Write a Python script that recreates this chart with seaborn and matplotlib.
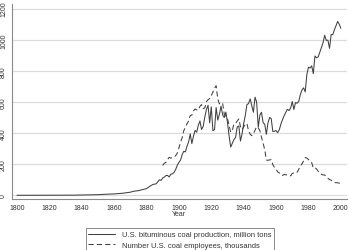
import numpy as np
import pandas as pd
import matplotlib
matplotlib.use("Agg")
import matplotlib.pyplot as plt
import seaborn as sns

# coal production, million tons (sparse early years, annual later)
prod_years = [1800, 1810, 1820, 1830, 1835, 1840, 1845, 1850, 1855, 1860, 1865,
              1870, 1872, 1875, 1877, 1880, 1882, 1884, 1886, 1888, 1889] + list(range(1890, 2001))
prod_values = [0.1, 0.2, 0.3, 0.6, 1.0, 2, 3, 4, 7, 9, 13,
               20, 26, 30, 35, 43, 58, 70, 74, 100, 96,
               # 1890-1929
               111, 117, 127, 128, 118, 136, 138, 147, 166, 193,
               212, 226, 261, 283, 279, 316, 343, 395, 333, 380,
               417, 406, 450, 478, 423, 443, 503, 552, 579, 466,
               569, 416, 422, 565, 484, 520, 573, 518, 500, 535,
               # 1930-1969
               468, 382, 310, 334, 359, 372, 439, 446, 349, 395,
               461, 514, 583, 590, 620, 578, 534, 631, 600, 438,
               516, 534, 467, 457, 392, 465, 501, 493, 410, 412,
               416, 403, 422, 459, 487, 512, 534, 553, 545, 561,
               # 1970-2000
               603, 552, 596, 592, 604, 648, 678, 691, 665, 776,
               824, 818, 833, 782, 896, 884, 890, 919, 950, 981,
               1029, 996, 998, 945, 1034, 1033, 1064, 1090, 1118, 1100,
               1074]

# coal employees, thousands
emp_years = list(range(1890, 2001))
emp_values = [192, 206, 212, 230, 244, 239, 244, 247, 255, 271,
              304, 340, 370, 415, 437, 460, 478, 513, 516, 543,
              555, 549, 548, 572, 583, 557, 562, 603, 615, 622,
              640, 664, 688, 705, 620, 588, 594, 593, 522, 503,
              493, 450, 406, 419, 459, 462, 478, 491, 442, 422,
              439, 457, 462, 416, 393, 383, 397, 419, 441, 434,
              416, 373, 335, 293, 227, 225, 228, 229, 197, 180,
              169, 150, 144, 142, 128, 134, 132, 131, 128, 125,
              140, 145, 150, 148, 167, 190, 202, 221, 242, 240,
              230, 220, 210, 175, 178, 169, 155, 143, 135, 131,
              131, 120, 110, 101, 97, 90, 83, 81, 81, 78,
              76]

y_ticks = [0, 200, 400, 600, 800, 1000, 1200]
x_ticks = list(range(1800, 2001, 20))

sns.set_style("white")
plt.rcParams["font.family"] = ["Liberation Sans", "DejaVu Sans"]

fig = plt.figure(figsize=(3.5, 2.51), dpi=100)
ax = fig.add_axes([0.034, 0.203, 0.957, 0.777])

prod = pd.DataFrame({"year": prod_years, "value": prod_values})
emp = pd.DataFrame({"year": emp_years, "value": emp_values})

line_col = "#404040"
sns.lineplot(data=prod, x="year", y="value", ax=ax, color=line_col, lw=0.75,
             label="U.S. bituminous coal production, million tons")
sns.lineplot(data=emp, x="year", y="value", ax=ax, color=line_col, lw=0.75,
             dashes=False, linestyle=(0, (5, 3)),
             label="Number U.S. coal employees, thousands")

ax.set_xlim(1796.9, 2003.7)
ax.set_ylim(-24, 1230)
ax.set_xticks(x_ticks)
ax.set_yticks(y_ticks)
ax.set_yticklabels([str(v) for v in y_ticks], rotation=90, va="center")
ax.yaxis.grid(True, color="#dcdcdc", lw=0.9)
ax.set_axisbelow(True)
for s in ["top", "right"]:
    ax.spines[s].set_visible(False)
for s in ["left", "bottom"]:
    ax.spines[s].set_color("#8a8a8a")
    ax.spines[s].set_linewidth(0.8)
ax.tick_params(axis="both", labelsize=5, colors="#8a8a8a", labelcolor="#333333",
               length=2, width=0.6, pad=1.5, direction="out")
ax.set_xlabel("Year", fontsize=5, color="#333333", labelpad=-0.5)
ax.set_ylabel("")

h, l = ax.get_legend_handles_labels()
ax.get_legend().remove()
leg = fig.legend(h, l, loc="upper center", bbox_to_anchor=(0.514, 0.086), ncol=1,
                 fontsize=5.4, frameon=True, fancybox=False, handlelength=3.6,
                 borderpad=0.35, labelspacing=0.4, handletextpad=0.9,
                 borderaxespad=0)
leg.get_frame().set_edgecolor("#555555")
leg.get_frame().set_linewidth(0.6)
for t in leg.get_texts():
    t.set_color("#333333")

fig.savefig("out.png", dpi=100, facecolor="white")
